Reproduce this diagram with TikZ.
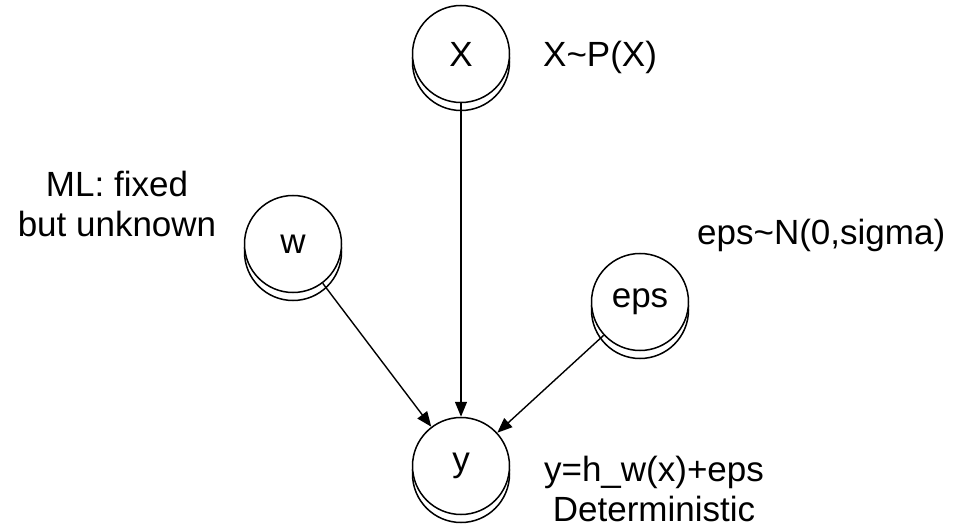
\documentclass[tikz,border=0pt]{standalone}
\usepackage{fontspec}
\setmainfont{Liberation Sans}
\usetikzlibrary{arrows.meta}
\begin{document}
\begin{tikzpicture}[x=1pt,y=-1pt,
  var/.style={circle, draw, fill=white, minimum size=97pt, inner sep=0pt, line width=1.5pt, font=\fontsize{35}{40}\selectfont},
  shadowc/.style={draw, fill=white, line width=1.5pt},
  lbl/.style={font=\fontsize{35}{40}\selectfont, inner sep=0pt, align=center},
  edge/.style={line width=1.4pt, -{Triangle[length=15pt,width=12pt]}}]
\useasboundingbox (0,0) rectangle (955,526);
% shadows
\foreach \cx/\cy in {461/54, 293/244, 640/302, 461/466}
  \draw[shadowc] (\cx,\cy+8) circle[radius=48.5pt];
\node[var] (X) at (461,54) {X};
\node[var] (w) at (293,244) {w};
\node[var] (eps) at (640,302) {eps};
\node[var] (y) at (461,466) {y};
\draw[edge] (X) -- (y);
\draw[edge] (w) -- (y);
\draw[edge] (eps) -- (y);
\node[lbl, anchor=base west] (lX) at (543,67) {X\textasciitilde P(X)};
\node[lbl, anchor=base] (lw) at (117,237) {ML: fixed\\but unknown};
\node[lbl, anchor=base west] (leps) at (697,245) {eps\textasciitilde N(0,sigma)};
\node[lbl, anchor=base] (ly) at (654,521) {y=h\_w(x)+eps\\Deterministic};
\end{tikzpicture}
\end{document}
